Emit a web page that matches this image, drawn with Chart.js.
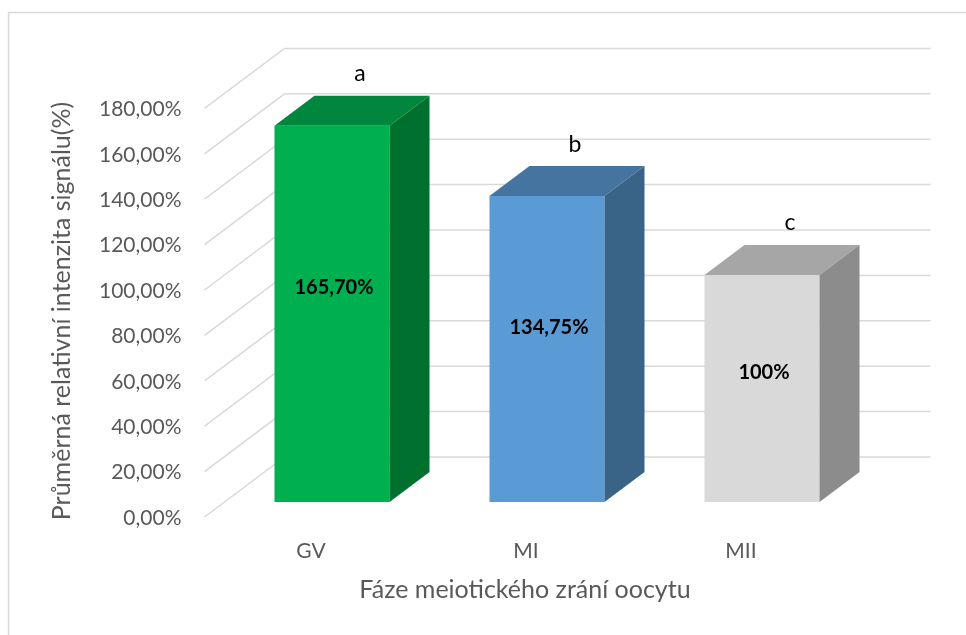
<!DOCTYPE html>
<html>
<head>
<meta charset="utf-8">
<script src="https://cdn.jsdelivr.net/npm/chart.js@4.4.0/dist/chart.umd.min.js"></script>
<style>
  html, body { margin: 0; padding: 0; background: #ffffff; }
  #wrap { width: 966px; height: 635px; position: relative; }
</style>
</head>
<body>
<div id="wrap"><canvas id="c" width="966" height="635"></canvas></div>
<script>
// ---- data ----
const categories = ['GV', 'MI', 'MII'];
const values = [165.70, 134.75, 100];
const valueLabels = ['165,70%', '134,75%', '100%'];
const significance = ['a', 'b', 'c'];
const yTickStep = 20;
const yMax = 180;
const yTitle = 'Průměrná relativní intenzita signálu(%)';
const xTitle = 'Fáze meiotického zrání oocytu';

// ---- styles ----
const frontColors = ['#00B050', '#5B9BD5', '#D9D9D9'];
const topColors = ['#00863D', '#44749F', '#A6A6A6'];
const sideColors = ['#00702F', '#3A6388', '#8C8C8C'];
const FONT = 'Lato, "Open Sans", sans-serif';
const DEPTH_X = 80, DEPTH_Y = 60;        // full wall depth
const BAR_OFF_X = 20, BAR_OFF_Y = 15;    // bar front from wall front
const BAR_DX = 40, BAR_DY = 30;          // bar depth

const fmtTick = v => v.toFixed(2).replace('.', ',') + '%';

const threeD = {
  id: 'threeD',
  beforeDraw(chart) {
    const ctx = chart.ctx;
    ctx.save();
    ctx.strokeStyle = '#d9d9d9';
    ctx.lineWidth = 1.5;
    ctx.strokeRect(8.5, 12.5, 1000, 700);
    ctx.restore();
  },
  beforeDatasetsDraw(chart) {
    const {ctx, chartArea, scales} = chart;
    const y = scales.y;
    const xFront = chartArea.left - BAR_OFF_X;
    const xBack = xFront + DEPTH_X;
    const xEnd = chartArea.right + 61;
    ctx.save();
    ctx.strokeStyle = '#d9d9d9';
    ctx.lineWidth = 1.5;
    y.ticks.forEach(t => {
      const p = y.getPixelForValue(t.value);
      const yF = p + BAR_OFF_Y;
      const yB = yF - DEPTH_Y;
      ctx.beginPath();
      ctx.moveTo(xFront, yF);
      ctx.lineTo(xBack, yB);
      ctx.lineTo(xEnd, yB);
      ctx.stroke();
    });
    ctx.restore();
  },
  afterDatasetsDraw(chart) {
    const {ctx, scales} = chart;
    const meta = chart.getDatasetMeta(0);
    ctx.save();
    meta.data.forEach((bar, i) => {
      const {x, y, base, width} = bar.getProps(['x', 'y', 'base', 'width'], true);
      const l = x - width / 2, r = x + width / 2;
      // top face
      ctx.fillStyle = topColors[i];
      ctx.beginPath();
      ctx.moveTo(l, y);
      ctx.lineTo(l + BAR_DX, y - BAR_DY);
      ctx.lineTo(r + BAR_DX, y - BAR_DY);
      ctx.lineTo(r, y);
      ctx.closePath();
      ctx.fill();
      // side face
      ctx.fillStyle = sideColors[i];
      ctx.beginPath();
      ctx.moveTo(r, y);
      ctx.lineTo(r + BAR_DX, y - BAR_DY);
      ctx.lineTo(r + BAR_DX, base - BAR_DY);
      ctx.lineTo(r, base);
      ctx.closePath();
      ctx.fill();
      // value label
      ctx.fillStyle = '#000000';
      ctx.font = 'bold 20px ' + FONT;
      ctx.textAlign = 'center';
      ctx.textBaseline = 'middle';
      const ly = scales.y.getPixelForValue(values[i] * 0.57);
      ctx.fillText(valueLabels[i], x + 2, ly);
      // significance letter
      ctx.font = '23px ' + FONT;
      ctx.fillText(significance[i], x + 28, y - BAR_DY - 22);
    });
    const ca = chart.chartArea;
    ctx.fillStyle = '#595959';
    ctx.font = '25px ' + FONT;
    ctx.textAlign = 'center';
    ctx.textBaseline = 'middle';
    // x axis title
    ctx.fillText(xTitle, (ca.left + ca.right) / 2 - 22, 590);
    // y axis title
    ctx.translate(62, 311);
    ctx.rotate(-Math.PI / 2);
    ctx.fillText(yTitle, 0, 0);
    ctx.restore();
  }
};

new Chart(document.getElementById('c'), {
  type: 'bar',
  data: {
    labels: categories,
    datasets: [{
      data: values,
      backgroundColor: frontColors,
      borderWidth: 0,
      barPercentage: 0.535,
      categoryPercentage: 1.0
    }]
  },
  options: {
    responsive: false,
    animation: false,
    events: [],
    layout: { padding: { left: 46, top: 93.4, right: 96.5, bottom: 0 } },
    plugins: { legend: { display: false }, tooltip: { enabled: false } },
    scales: {
      x: {
        grid: { display: false, drawTicks: false },
        border: { display: false },
        ticks: { color: '#595959', font: { family: FONT, size: 21 }, labelOffset: -21, padding: 37 },
        afterFit(scale) { scale.height = 133; }
      },
      y: {
        min: 0, max: yMax,
        grid: { display: false, drawTicks: false },
        border: { display: false },
        ticks: {
          stepSize: yTickStep,
          color: '#595959',
          font: { family: FONT, size: 21 },
          labelOffset: BAR_OFF_Y + 1,
          padding: 43,
          callback: v => fmtTick(v)
        },
        afterFit(scale) { scale.width = 224.5 - 46; }
      }
    }
  },
  plugins: [threeD]
});
</script>
</body>
</html>
